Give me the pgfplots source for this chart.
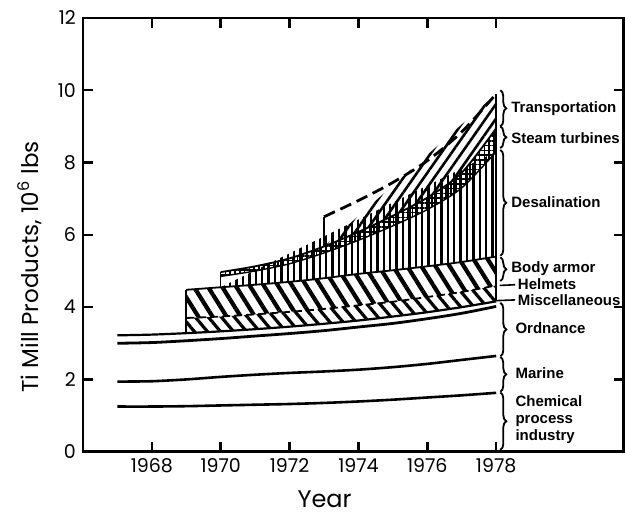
\documentclass[border=0pt]{standalone}
\usepackage{fontspec}
\setmainfont{Poppins}
\newfontfamily\labfont{Liberation Sans}
\usepackage{pgfplots}
\usepackage{pgfplotstable}
\pgfplotsset{compat=1.18}
\usepgfplotslibrary{fillbetween}
\usetikzlibrary{patterns.meta,decorations.pathreplacing,calc}

\pgfplotstableread{
year chem marine ord misc
1967 1.25 1.94 3.00 3.22
1968 1.25 1.95 3.02 3.24
1969 1.26 2.00 3.07 3.28
1970 1.28 2.07 3.13 3.33
1971 1.30 2.13 3.20 3.39
1972 1.32 2.18 3.27 3.46
1973 1.35 2.22 3.35 3.54
1974 1.39 2.27 3.45 3.63
1975 1.44 2.34 3.55 3.74
1976 1.50 2.43 3.68 3.86
1977 1.56 2.54 3.83 4.00
1978 1.63 2.65 4.02 4.16
}\base

\pgfplotstableread{
year low helm armor
1969 3.28 3.70 4.48
1970 3.33 3.74 4.55
1971 3.39 3.80 4.62
1972 3.46 3.87 4.70
1973 3.54 3.95 4.80
1974 3.63 4.05 4.92
1975 3.74 4.15 5.02
1976 3.86 4.28 5.13
1977 4.00 4.42 5.25
1978 4.16 4.60 5.40
}\hel

\pgfplotstableread{
year desal steam
1970 4.85 4.97
1971 5.00 5.13
1972 5.20 5.35
1973 5.50 5.68
1974 5.85 6.08
1975 6.25 6.53
1976 6.70 7.03
1977 7.30 7.72
1978 8.30 8.95
}\des

\pgfplotstableread{
year trans
1973 6.50
1974 6.95
1975 7.45
1976 8.05
1977 8.85
1978 9.90
}\tra

\newcommand{\lab}{\labfont\bfseries\fontsize{7.5}{8.5}\selectfont}

\begin{document}
\begin{tikzpicture}
\begin{axis}[
  scale only axis, width=270.5pt, height=217pt,
  xmin=1966, xmax=1981.7, ymin=0, ymax=12,
  xtick={1968,1970,...,1978}, ytick={0,2,...,12},
  tick align=inside, major tick length=5pt,
  tick style={line width=1.2pt, black},
  axis line style={line width=1.4pt},
  /pgf/number format/assume math mode=true,
  xticklabel style={/pgf/number format/1000 sep={}, font=\fontsize{9.5}{10}\selectfont},
  yticklabel style={font=\fontsize{9.5}{10}\selectfont},
  xlabel={Year},
  xlabel style={at={(rel axis cs:0.447,0)}, anchor=center, yshift=-24pt, font=\fontsize{12}{13}\selectfont},
  ylabel={Ti Mill Products, 10\textsuperscript{6} lbs},
  ylabel style={at={(rel axis cs:-0.098,0.426)}, anchor=center, font=\fontsize{11.5}{12}\selectfont},
  clip=false,
]
\coordinate (sw) at (rel axis cs:0,0);
\coordinate (ne) at (rel axis cs:1,1);

% boundary paths
\addplot[draw=none, smooth, name path=low] table[x=year,y=low]{\hel};
\addplot[draw=none, smooth, name path=helm] table[x=year,y=helm]{\hel};
\addplot[draw=none, smooth, name path=armor] table[x=year,y=armor]{\hel};
\addplot[draw=none, smooth, name path=desal] table[x=year,y=desal]{\des};
\addplot[draw=none, smooth, name path=steam] table[x=year,y=steam]{\des};
\addplot[draw=none, smooth, name path=trans] table[x=year,y=trans]{\tra};

% patterned bands
\addplot[pattern={Lines[angle=-50,distance=5pt,line width=1.6pt]}, pattern color=black]
  fill between[of=low and helm];
\addplot[pattern={Lines[angle=-58,distance=6pt,line width=2.1pt]}, pattern color=black]
  fill between[of=helm and armor];
\addplot[pattern={Lines[angle=90,distance=3.2pt,line width=1.2pt]}, pattern color=black]
  fill between[of=armor and desal, soft clip={domain=1970:1978}];
\addplot[pattern={Hatch[angle=0,distance=2.4pt,line width=0.8pt]}, pattern color=black]
  fill between[of=desal and steam];
\addplot[pattern={Lines[angle=55,distance=4.2pt,line width=1.3pt]}, pattern color=black]
  fill between[of=steam and trans, soft clip={domain=1973:1978}];

% lines
\addplot[black, line width=1.3pt, smooth] table[x=year,y=chem]{\base};
\addplot[black, line width=1.3pt, smooth] table[x=year,y=marine]{\base};
\addplot[black, line width=1.4pt, smooth] table[x=year,y=ord]{\base};
\addplot[black, line width=1.1pt, smooth] table[x=year,y=misc]{\base};
\addplot[black, line width=0.9pt, smooth, dash pattern=on 4pt off 2pt] table[x=year,y=helm]{\hel};
\addplot[black, line width=0.9pt, smooth] table[x=year,y=armor]{\hel};
\addplot[black, line width=0.7pt, smooth] table[x=year,y=desal]{\des};
\addplot[black, line width=0.9pt, smooth] table[x=year,y=steam]{\des};
\addplot[black, line width=1.4pt, smooth, dash pattern=on 6pt off 3pt] table[x=year,y=trans]{\tra};
% edges
\addplot[black, line width=1pt] coordinates {(1969,3.28) (1969,4.48)};
\addplot[black, line width=0.8pt] coordinates {(1970,4.55) (1970,4.97)};
\addplot[black, line width=0.8pt] coordinates {(1973,5.68) (1973,6.50)};
\addplot[black, line width=1pt] coordinates {(1978,4.16) (1978,9.90)};

% braces and labels
\tikzset{br/.style={decorate, decoration={brace, amplitude=3pt}, line width=0.9pt}}
\draw[br] (axis cs:1978.12,10.0) -- (axis cs:1978.12,9.0);
\draw[br] (axis cs:1978.12,9.0) -- (axis cs:1978.12,8.4);
\draw[br] (axis cs:1978.12,8.35) -- (axis cs:1978.12,5.42);
\draw[br] (axis cs:1978.12,5.38) -- (axis cs:1978.12,4.72);
\draw[br] (axis cs:1978.12,4.12) -- (axis cs:1978.12,2.64);
\draw[br] (axis cs:1978.12,2.62) -- (axis cs:1978.12,1.66);
\draw[br] (axis cs:1978.12,1.64) -- (axis cs:1978.12,0.05);
\draw[line width=0.8pt] (axis cs:1978.1,4.60) -- (axis cs:1978.55,4.62);
\draw[line width=0.8pt] (axis cs:1978.0,4.18) -- (axis cs:1978.55,4.20);

\node[anchor=west, inner sep=0pt, font=\lab] at (axis cs:1978.43,9.50) {Transportation};
\node[anchor=west, inner sep=0pt, font=\lab] at (axis cs:1978.43,8.68) {Steam turbines};
\node[anchor=west, inner sep=0pt, font=\lab] at (axis cs:1978.43,6.90) {Desalination};
\node[anchor=west, inner sep=0pt, font=\lab] at (axis cs:1978.43,5.06) {Body armor};
\node[anchor=west, inner sep=0pt, font=\lab] at (axis cs:1978.62,4.63) {Helmets};
\node[anchor=west, inner sep=0pt, font=\lab] at (axis cs:1978.62,4.20) {Miscellaneous};
\node[anchor=west, inner sep=0pt, font=\lab] at (axis cs:1978.55,3.43) {Ordnance};
\node[anchor=west, inner sep=0pt, font=\lab] at (axis cs:1978.55,2.18) {Marine};
\node[anchor=west, inner sep=0pt, font=\lab, align=left] at (axis cs:1978.55,0.88) {Chemical\\process\\industry};
\end{axis}
\pgfresetboundingbox
\path[use as bounding box] ($(sw)+(-41.5pt,-34pt)$) rectangle ($(ne)+(0.7pt,9pt)$);
\end{tikzpicture}
\end{document}
